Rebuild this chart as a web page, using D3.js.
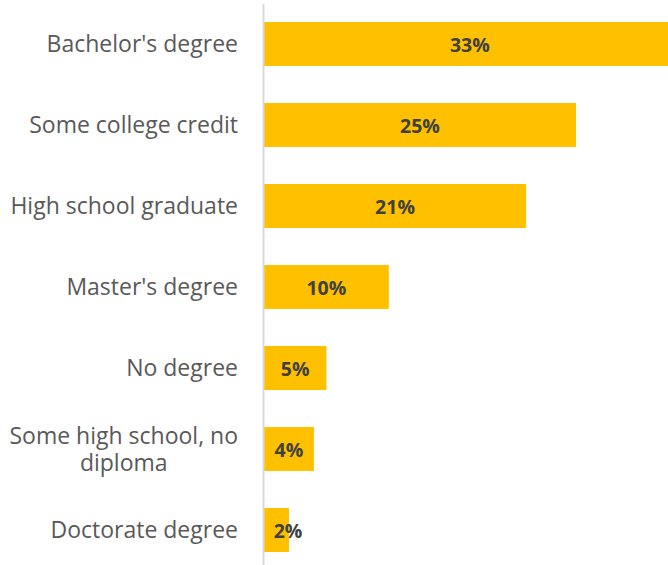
<!DOCTYPE html>
<html>
<head>
<meta charset="utf-8">
<script src="https://cdn.jsdelivr.net/npm/d3@7"></script>
<style>
	body { margin: 0; background: #fff; }
	svg { display: block; }
</style>
</head>
<body>
<div id="chart"></div>
<script>
// data
var categories = [
	"Bachelor's degree",
	"Some college credit",
	"High school graduate",
	"Master's degree",
	"No degree",
	"Some high school, no diploma",
	"Doctorate degree"
];
var values = [33, 25, 21, 10, 5, 4, 2];
// how the long labels break onto two lines
var labelLines = [
	["Bachelor's degree"],
	["Some college credit"],
	["High school graduate"],
	["Master's degree"],
	["No degree"],
	["Some high school, no", "diploma"],
	["Doctorate degree"]
];

var width = 668, height = 565;
var axisX = 264;

var svg = d3.select("#chart").append("svg")
	.attr("width", width)
	.attr("height", height);

var x = d3.scaleLinear()
	.domain([0, 25])
	.range([axisX, 576]);

var y = d3.scaleBand()
	.domain(categories)
	.range([3.5, 570.5])
	.paddingInner(0.457)
	.paddingOuter(0.2285);

var data = categories.map(function (c, i) {
	return { cat: c, value: values[i], lines: labelLines[i] };
});

// bars
svg.append("g").selectAll("rect")
	.data(data)
	.enter().append("rect")
	.attr("x", x(0))
	.attr("y", function (d) { return y(d.cat); })
	.attr("width", function (d) { return x(d.value) - x(0); })
	.attr("height", y.bandwidth())
	.attr("fill", "#FFC000");

// vertical axis line
svg.append("line")
	.attr("x1", axisX - 0.5).attr("x2", axisX - 0.5)
	.attr("y1", 4).attr("y2", height)
	.attr("stroke", "#d9d9d9")
	.attr("stroke-width", 2);

// value labels, centred in the bar (kept clear of the axis on tiny bars)
svg.append("g").selectAll("text")
	.data(data)
	.enter().append("text")
	.attr("x", function (d) {
		var right = Math.min(x(d.value), width + 8);
		return Math.max((x(0) + right) / 2, x(0) + 24);
	})
	.attr("y", function (d) { return y(d.cat) + y.bandwidth() / 2; })
	.attr("dy", "0.4em")
	.attr("text-anchor", "middle")
	.attr("font-family", "'Open Sans', sans-serif")
	.attr("font-weight", "bold")
	.attr("font-size", 19.5)
	.attr("fill", "#404040")
	.text(function (d) { return d.value + "%"; });

// category labels
var labelRight = 238;
var lineH = 27;
var labels = svg.append("g")
	.attr("font-family", "'Open Sans', sans-serif")
	.attr("font-size", 23)
	.attr("fill", "#595959");

data.forEach(function (d) {
	var cy = y(d.cat) + y.bandwidth() / 2;
	var n = d.lines.length;
	var first = labels.append("text")
		.attr("x", labelRight)
		.attr("y", cy - (n - 1) * lineH / 2)
		.attr("dy", "0.36em")
		.attr("text-anchor", "end")
		.text(d.lines[0]);
	if (n > 1) {
		var w = first.node().getComputedTextLength();
		for (var k = 1; k < n; k++) {
			labels.append("text")
				.attr("x", labelRight - w / 2)
				.attr("y", cy - (n - 1) * lineH / 2 + k * lineH)
				.attr("dy", "0.36em")
				.attr("text-anchor", "middle")
				.text(d.lines[k]);
		}
	}
});
</script>
</body>
</html>
